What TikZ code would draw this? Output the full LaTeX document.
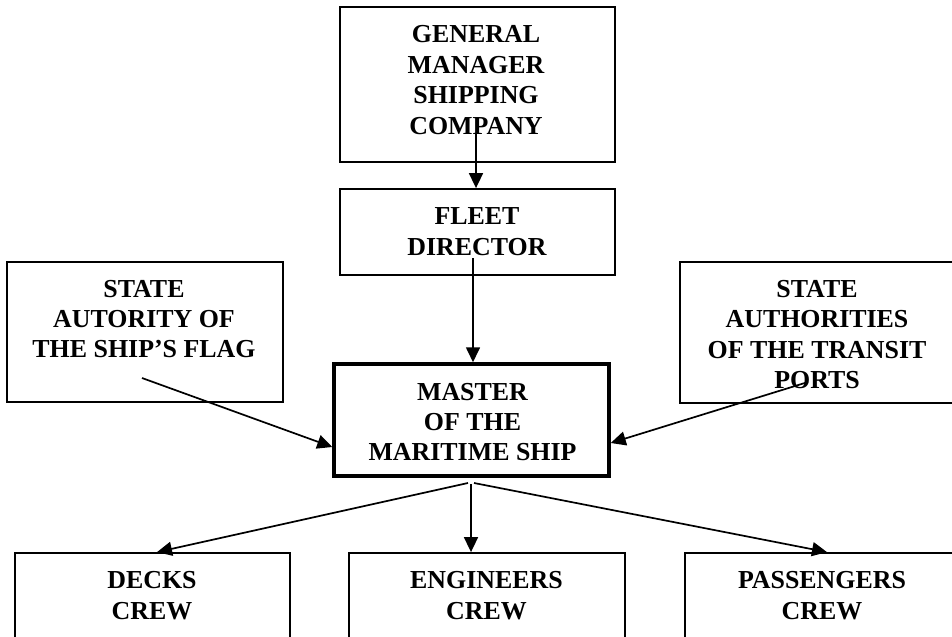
\documentclass[tikz,border=0pt]{standalone}
\usepackage{fontspec}
\setmainfont{Liberation Serif}
\usetikzlibrary{arrows.meta}
\begin{document}
\begin{tikzpicture}[x=1bp,y=-1bp,
  box/.style={draw, line width=1.8bp, inner sep=0pt},
  mbox/.style={draw, line width=3.5bp, inner sep=0pt},
  txt/.style={align=center, font=\bfseries\fontsize{26}{30.5}\selectfont, inner sep=0pt},
  arr/.style={line width=1.7bp, -{Triangle[length=15bp,width=14bp]}}]
\useasboundingbox (0,0) rectangle (952,637);
\clip (0,0) rectangle (952,637);
% boxes
\node[box, minimum width=275bp, minimum height=155bp] (gm) at (477.5,84.5) {};
\node[box, minimum width=275bp, minimum height=86bp] (fd) at (477.5,232) {};
\node[mbox, minimum width=275bp, minimum height=112bp] (master) at (471.5,420) {};
\node[box, minimum width=276bp, minimum height=140bp] (flag) at (145,332) {};
\node[box, minimum width=280bp, minimum height=141bp] (ports) at (820,332.5) {};
\node[box, minimum width=275bp, minimum height=97bp] (decks) at (152.5,601.5) {};
\node[box, minimum width=276bp, minimum height=97bp] (eng) at (487,601.5) {};
\node[box, minimum width=275bp, minimum height=97bp] (pass) at (822.5,601.5) {};
% texts
\node[txt] (gmt) at (476,80) {GENERAL\\MANAGER\\SHIPPING\\COMPANY};
\node[txt] (fdt) at (477,231.5) {FLEET\\DIRECTOR};
\node[txt] (mt) at (472.5,422) {MASTER\\OF THE\\MARITIME SHIP};
\node[txt] (flagt) at (144,319) {STATE\\AUTORITY OF\\THE SHIP’S FLAG};
\node[txt] (portst) at (817,334.5) {STATE\\AUTHORITIES\\OF THE TRANSIT\\PORTS};
\node[txt] (deckst) at (152,595.5) {DECKS\\CREW};
\node[txt] (engt) at (486.5,595.5) {ENGINEERS\\CREW};
\node[txt] (passt) at (822,595.5) {PASSENGERS\\CREW};
% connectors
\coordinate (s1) at (476,133);
\draw[arr] (s1) -- (s1 |- fd.north);
\coordinate (s2) at (473,258);
\draw[arr] (s2) -- (s2 |- master.north);
\coordinate (s3) at (142,378);
\coordinate (t3) at (0,447);
\draw[arr] (s3) -- (master.west |- t3);
\coordinate (s4) at (808,382);
\coordinate (t4) at (0,443);
\draw[arr] (s4) -- (master.east |- t4);
\coordinate (s5) at (468,483);
\coordinate (t5) at (157,0);
\draw[arr] (s5) -- (t5 |- decks.north);
\coordinate (s6) at (471,484);
\draw[arr] (s6) -- (s6 |- eng.north);
\coordinate (s7) at (474,483);
\coordinate (t7) at (827,0);
\draw[arr] (s7) -- (t7 |- pass.north);
\end{tikzpicture}
\end{document}
